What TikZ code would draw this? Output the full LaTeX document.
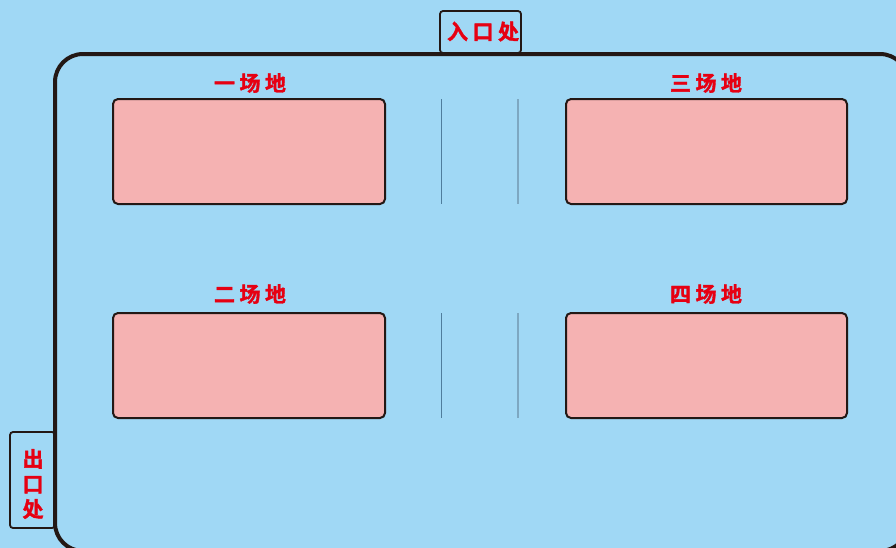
\documentclass[tikz,border=0pt]{standalone}
\usepackage{fontspec}
\newfontfamily\cjk[FakeBold=1.6]{Noto Sans CJK SC Bold}
\definecolor{bg}{HTML}{A0D8F5}
\definecolor{field}{HTML}{F5B2B2}
\definecolor{lbl}{HTML}{E60012}
\definecolor{ink}{HTML}{231815}
\definecolor{sepA}{HTML}{4F7D9C}
\definecolor{sepB}{HTML}{7DA8C2}
\tikzset{
  fieldbox/.style={draw=ink, line width=2pt, fill=field, rounded corners=5pt,
    minimum height=105pt, inner sep=0pt},
  lab/.style={text=lbl, font=\cjk\fontsize{21pt}{21pt}\selectfont, inner sep=0pt},
  gatebox/.style={draw=ink, line width=1.8pt, fill=bg, rounded corners=3pt, inner sep=0pt},
  wall/.style={draw=ink, line width=4pt, rounded corners=28pt},
}
\newcommand{\gapch}{\hspace{4.5pt}}
\begin{document}
\begin{tikzpicture}[x=1pt,y=-1pt]
\useasboundingbox (0,0) rectangle (896,547);
\clip (0,0) rectangle (896,547);
\fill[bg] (-5,-5) rectangle (901,552);
% gates
\node[gatebox, minimum width=81pt, minimum height=42pt] (entry) at (480.5,32) {};
\node[gatebox, minimum width=45pt, minimum height=96pt] (exit) at (32.5,480) {};
% outer wall
\draw[wall] (55,54) rectangle (908,551);
% labels of gates
\node[lab] (entrytxt) at (483,31.5) {入\gapch 口\gapch 处};
\node[lab, align=center] (exittxt) at (33,484) {出\\[4pt]口\\[4pt]处};
% fields
\node[fieldbox, minimum width=272pt] (f1) at (249,151.5) {};
\node[fieldbox, minimum width=281pt] (f3) at (706.5,151.5) {};
\node[fieldbox, minimum width=272pt] (f2) at (249,365.5) {};
\node[fieldbox, minimum width=281pt] (f4) at (706.5,365.5) {};
\node[lab] (l1) at (250,83) {一\gapch 场\gapch 地};
\node[lab] (l3) at (706,83) {三\gapch 场\gapch 地};
\node[lab] (l2) at (250,294) {二\gapch 场\gapch 地};
\node[lab] (l4) at (706,294) {四\gapch 场\gapch 地};
% separators
\coordinate (a1) at (441,99); \coordinate (a2) at (441,204);
\coordinate (b1) at (518,99); \coordinate (b2) at (518,204);
\coordinate (c1) at (441,313); \coordinate (c2) at (441,418);
\coordinate (d1) at (518,313); \coordinate (d2) at (518,418);
\draw[sepA, line width=1pt] (a1) -- (a2);
\draw[sepB, line width=1.4pt] (b1) -- (b2);
\draw[sepA, line width=1pt] (c1) -- (c2);
\draw[sepB, line width=1.4pt] (d1) -- (d2);
\end{tikzpicture}
\end{document}
